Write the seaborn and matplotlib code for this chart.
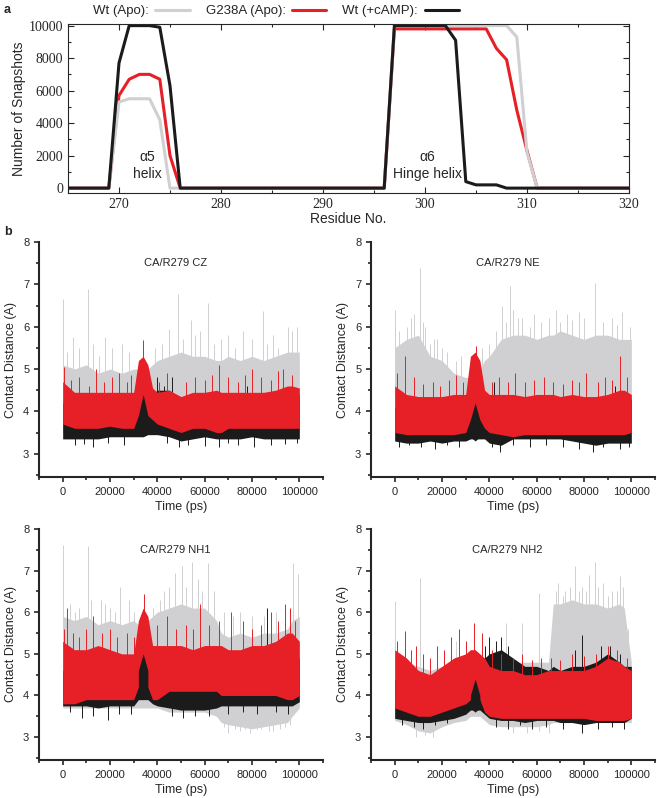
import numpy as np
import pandas as pd
import seaborn as sns
import matplotlib.pyplot as plt
from matplotlib.lines import Line2D
from matplotlib.ticker import MultipleLocator

sns.set_style("ticks")
plt.rcParams['font.family'] = ['Liberation Sans', 'DejaVu Sans']

GRAY = "#d0d0d2"
RED = "#e71f27"
BLACK = "#1b1b1b"

# ---------------- panel a: helix occupancy per residue ----------------
residues = np.arange(265, 321)
wt_apo = [0, 0, 0, 0, 0, 5300, 5500, 5500, 5500, 4200, 0,
          0, 0, 0, 0, 0, 0, 0, 0, 0, 0, 0, 0, 0, 0, 0, 0, 0, 0, 0, 0, 0,
          10000, 10000, 10000, 10000, 10000, 10000, 10000, 10000, 10000, 10000, 10000, 10000,
          9300, 2200, 0, 0, 0, 0, 0, 0, 0, 0, 0, 0]
g238a_apo = [0, 0, 0, 0, 0, 5700, 6700, 7000, 7000, 6700, 2000,
             0, 0, 0, 0, 0, 0, 0, 0, 0, 0, 0, 0, 0, 0, 0, 0, 0, 0, 0, 0, 0,
             9800, 9800, 9800, 9800, 9800, 9800, 9800, 9800, 9800, 9800, 8600, 7900,
             4800, 2300, 0, 0, 0, 0, 0, 0, 0, 0, 0, 0]
wt_camp = [0, 0, 0, 0, 0, 7700, 10000, 10000, 10000, 9900, 6300,
           0, 0, 0, 0, 0, 0, 0, 0, 0, 0, 0, 0, 0, 0, 0, 0, 0, 0, 0, 0, 0,
           10000, 10000, 10000, 10000, 10000, 10000, 9100, 400, 200, 200, 200, 0,
           0, 0, 0, 0, 0, 0, 0, 0, 0, 0, 0, 0]

# ---------------- panel b: contact distance traces (envelopes + spikes read by eye) ----------------
T = [0, 5000, 10000, 15000, 20000, 25000, 30000, 32000, 34000, 36000, 38000, 40000,
     45000, 50000, 55000, 60000, 65000, 67000, 70000, 75000, 80000, 85000, 90000,
     95000, 97000, 100000]
T_BUMP = [32000, 34000, 36000]

panels = {
    "CA/R279 CZ": dict(
        gray_hi=[5.1, 5.0, 5.1, 4.9, 5.0, 4.9, 5.0, 5.0, 5.0, 5.0, 5.1, 5.2, 5.3, 5.4, 5.3, 5.3, 5.2, 5.2, 5.3, 5.2, 5.3, 5.2, 5.3, 5.4, 5.4, 5.4],
        gray_lo=[3.5, 3.5, 3.5, 3.5, 3.5, 3.5, 3.5, 3.5, 3.5, 3.5, 3.5, 3.5, 3.5, 3.5, 3.5, 3.5, 3.5, 3.5, 3.5, 3.5, 3.5, 3.5, 3.5, 3.5, 3.5, 3.5],
        red_hi=[4.7, 4.45, 4.45, 4.45, 4.45, 4.45, 4.45, 5.2, 5.3, 5.1, 4.55, 4.45, 4.5, 4.35, 4.45, 4.45, 4.5, 4.45, 4.45, 4.45, 4.45, 4.45, 4.5, 4.6, 4.6, 4.55],
        red_lo=[3.7, 3.6, 3.6, 3.6, 3.65, 3.6, 3.6, 3.9, 3.9, 3.9, 3.8, 3.7, 3.6, 3.5, 3.6, 3.6, 3.5, 3.5, 3.6, 3.6, 3.6, 3.6, 3.6, 3.6, 3.6, 3.6],
        black_hi=[4.2, 4.2, 4.2, 4.2, 4.2, 4.2, 4.2, 4.3, 4.4, 4.3, 4.4, 4.5, 4.5, 4.3, 4.2, 4.2, 4.2, 4.2, 4.2, 4.2, 4.2, 4.2, 4.2, 4.2, 4.3, 4.4],
        black_lo=[3.35, 3.35, 3.35, 3.35, 3.4, 3.4, 3.4, 3.4, 3.4, 3.45, 3.45, 3.45, 3.4, 3.3, 3.35, 3.4, 3.35, 3.35, 3.35, 3.35, 3.4, 3.35, 3.35, 3.35, 3.35, 3.35],
        bump_hi=[3.9, 4.4, 3.9], bump_lo=[3.5, 3.4, 3.5],
        gray_t=[0, 2000, 4500, 7000, 10600, 13000, 15500, 18000, 21000, 25000, 28000, 39000, 42000, 45000,
                48600, 51000, 54200, 56000, 58000, 61500, 64000, 67000, 70000, 73000, 76000, 80000, 84600,
                86500, 89000, 91000, 95000, 97000, 99000],
        gray_v=[6.66, 5.4, 5.76, 5.5, 6.88, 5.6, 5.3, 5.75, 5.5, 5.6, 5.4, 5.5, 5.6, 5.95,
                6.77, 5.7, 6.15, 5.8, 5.9, 6.56, 5.6, 5.7, 5.8, 5.5, 5.9, 5.7, 6.36,
                5.6, 5.8, 5.5, 6.0, 5.9, 6.0],
        gray_dn_t=[], gray_dn_v=[],
        red_t=[700, 3500, 7000, 11000, 14000, 17500, 21000, 24000, 27000, 29000, 34000, 40500, 44000,
               52000, 56000, 60000, 63000, 66000, 70000, 74000, 77000, 80000, 84000, 88000, 91000, 93000, 97000],
        red_v=[5.05, 4.75, 4.8, 4.6, 5.0, 4.7, 4.8, 4.9, 4.7, 4.85, 5.68, 4.7, 4.9,
               4.7, 4.8, 4.75, 4.85, 5.1, 4.8, 4.7, 4.85, 5.0, 4.8, 4.75, 4.95, 5.0, 4.85],
        black_t=[10000, 40000, 43000, 46000, 78000],
        black_v=[4.4, 4.8, 4.6, 4.8, 4.6],
        black_dn_t=[5000, 9000, 13000, 19000, 26000, 44000, 49000, 53000, 60000, 66000, 70000, 74000, 81000, 88000, 94000, 99000],
        black_dn_v=[3.2, 3.22, 3.15, 3.25, 3.2, 3.25, 3.15, 3.2, 3.18, 3.15, 3.25, 3.2, 3.15, 3.2, 3.22, 3.25]),
    "CA/R279 NE": dict(
        gray_hi=[5.5, 5.7, 5.8, 5.3, 5.2, 4.9, 4.8, 4.8, 4.9, 5.0, 5.2, 5.3, 5.7, 5.8, 5.8, 5.7, 5.8, 5.8, 5.9, 5.8, 5.7, 5.8, 5.8, 5.7, 5.7, 5.7],
        gray_lo=[3.5, 3.5, 3.5, 3.5, 3.5, 3.5, 3.5, 3.5, 3.5, 3.5, 3.5, 3.5, 3.5, 3.5, 3.5, 3.5, 3.5, 3.5, 3.5, 3.5, 3.5, 3.5, 3.5, 3.5, 3.5, 3.5],
        red_hi=[4.6, 4.4, 4.35, 4.35, 4.35, 4.4, 4.4, 5.3, 5.4, 5.2, 4.5, 4.4, 4.4, 4.4, 4.35, 4.4, 4.4, 4.4, 4.35, 4.4, 4.35, 4.35, 4.4, 4.5, 4.5, 4.4],
        red_lo=[3.5, 3.45, 3.45, 3.45, 3.45, 3.45, 3.5, 3.8, 3.8, 3.8, 3.6, 3.5, 3.45, 3.4, 3.45, 3.45, 3.45, 3.45, 3.45, 3.45, 3.45, 3.45, 3.45, 3.45, 3.45, 3.5],
        black_hi=[4.1, 4.1, 4.1, 4.1, 4.1, 4.1, 4.2, 4.2, 4.2, 4.2, 4.2, 4.3, 4.2, 4.2, 4.2, 4.2, 4.2, 4.2, 4.2, 4.2, 4.2, 4.2, 4.2, 4.2, 4.2, 4.3],
        black_lo=[3.3, 3.25, 3.25, 3.3, 3.25, 3.3, 3.3, 3.35, 3.35, 3.35, 3.35, 3.25, 3.2, 3.35, 3.35, 3.35, 3.35, 3.35, 3.35, 3.3, 3.25, 3.2, 3.25, 3.25, 3.25, 3.25],
        bump_hi=[3.8, 4.2, 3.8], bump_lo=[3.4, 3.3, 3.4],
        gray_t=[0, 2000, 5000, 7000, 8000, 10900, 12000, 13000, 15000, 16500, 18000, 20000, 22000, 26000, 28000,
                37000, 40000, 43000, 45500, 47000, 48700, 50000, 52000, 54000, 57000, 59000, 62000, 65000,
                68000, 70000, 73000, 75000, 78000, 80000, 84800, 88000, 92000, 94000, 96000, 99500],
        gray_v=[6.39, 5.9, 6.0, 6.2, 6.3, 7.38, 6.1, 6.0, 5.6, 5.7, 5.7, 5.5, 5.4, 5.2, 5.3,
                5.5, 5.6, 5.9, 6.5, 6.1, 6.96, 6.4, 6.2, 6.2, 6.0, 6.3, 6.1, 6.2,
                6.4, 6.1, 6.3, 6.15, 6.35, 6.2, 7.04, 6.1, 6.2, 6.05, 6.35, 6.0],
        gray_dn_t=[], gray_dn_v=[],
        red_t=[1000, 4200, 8000, 12000, 16000, 19000, 23000, 26000, 29000, 34500, 41000, 44000, 48000, 51000,
               55000, 59000, 63000, 67000, 71000, 75000, 78000, 81000, 86000, 89000, 92000, 95200, 98000],
        red_v=[4.9, 5.3, 4.8, 4.65, 4.7, 4.6, 4.75, 4.85, 4.7, 5.55, 4.7, 4.8, 4.7, 4.9,
               4.7, 4.75, 4.8, 4.7, 4.65, 4.75, 4.7, 4.9, 4.7, 4.8, 4.75, 5.3, 4.8],
        black_t=[29000, 42000, 75000, 93000, 99500],
        black_v=[4.6, 4.7, 4.6, 4.6, 4.3],
        black_dn_t=[2000, 6000, 11000, 17000, 22000, 27000, 41000, 44500, 50000, 57000, 64000, 71000, 78000, 84000, 88000, 95000, 99000],
        black_dn_v=[3.15, 3.2, 3.15, 3.1, 3.2, 3.15, 3.15, 3.05, 3.2, 3.15, 3.2, 3.15, 3.1, 3.05, 3.15, 3.1, 3.15]),
    "CA/R279 NH1": dict(
        gray_hi=[5.9, 5.8, 5.9, 5.7, 5.8, 5.7, 5.8, 5.7, 5.8, 5.8, 5.9, 6.0, 6.1, 6.2, 6.1, 6.1, 5.8, 5.5, 5.4, 5.5, 5.4, 5.5, 5.5, 5.6, 5.8, 5.9],
        gray_lo=[3.7, 3.7, 3.7, 3.7, 3.7, 3.7, 3.7, 3.7, 3.7, 3.7, 3.7, 3.7, 3.6, 3.6, 3.6, 3.6, 3.5, 3.35, 3.3, 3.25, 3.2, 3.25, 3.3, 3.35, 3.5, 3.7],
        red_hi=[5.3, 5.1, 5.1, 5.2, 5.1, 5.0, 5.0, 5.8, 6.1, 5.9, 5.2, 5.2, 5.2, 5.2, 5.1, 5.2, 5.2, 5.2, 5.1, 5.1, 5.2, 5.2, 5.3, 5.5, 5.5, 5.3],
        red_lo=[3.8, 3.8, 3.9, 3.9, 3.9, 3.9, 3.9, 4.2, 4.2, 4.2, 3.9, 3.9, 4.1, 4.1, 4.1, 4.1, 4.1, 4.0, 4.0, 4.0, 4.0, 4.0, 4.0, 3.9, 3.9, 4.0],
        black_hi=[4.6, 4.6, 4.6, 4.6, 4.6, 4.6, 4.6, 4.5, 4.5, 4.5, 4.6, 4.5, 4.5, 4.5, 4.5, 4.5, 4.5, 4.5, 4.5, 4.5, 4.6, 4.6, 4.6, 4.7, 4.8, 4.9],
        black_lo=[3.75, 3.75, 3.75, 3.7, 3.75, 3.75, 3.75, 3.9, 3.9, 3.9, 3.8, 3.75, 3.7, 3.65, 3.65, 3.65, 3.7, 3.75, 3.75, 3.75, 3.75, 3.75, 3.75, 3.75, 3.75, 3.85],
        bump_hi=[4.6, 5.0, 4.6], bump_lo=[4.0, 3.9, 4.0],
        gray_t=[0, 3000, 5000, 7000, 10600, 12000, 16000, 18000, 20000, 22000, 24400, 28000, 30000, 38000, 41000,
                43000, 45000, 47500, 50300, 52000, 54500, 57000, 59000, 61500, 64000, 68000, 72000, 75000,
                80000, 85000, 90000, 94000, 97200, 99300],
        gray_v=[7.62, 6.2, 6.0, 6.1, 7.58, 6.3, 6.3, 6.2, 6.1, 6.0, 6.6, 6.3, 6.0, 6.1, 6.3,
                6.5, 6.6, 6.95, 7.1, 6.6, 7.2, 6.8, 6.5, 7.19, 6.5, 6.0, 5.9, 6.0,
                5.9, 5.9, 6.0, 6.1, 7.19, 6.92],
        gray_dn_t=[68000, 70000, 73000, 75000, 77000, 79000, 82000, 84000, 87000, 89000, 92000, 94000, 96000],
        gray_dn_v=[3.25, 3.1, 3.2, 3.15, 3.2, 3.1, 3.2, 3.2, 3.15, 3.15, 3.2, 3.25, 3.3],
        red_t=[500, 2000, 4500, 7000, 10000, 13000, 16500, 20000, 23000, 27000, 30000, 34500, 40000, 44000, 48000,
               52000, 55000, 58000, 62000, 66000, 71000, 76000, 80000, 84000, 88000, 91000, 94000, 96000, 98000],
        red_v=[5.6, 6.1, 5.5, 5.4, 5.6, 5.9, 5.5, 5.6, 5.4, 5.5, 5.4, 6.45, 5.7, 5.9, 5.6,
               5.7, 5.6, 6.2, 5.7, 5.8, 6.0, 5.8, 5.6, 5.7, 6.0, 5.8, 6.2, 6.1, 5.8],
        black_t=[6000, 13000, 86500, 99000],
        black_v=[5.1, 5.5, 6.1, 5.0],
        black_dn_t=[3000, 8000, 13000, 19000, 24000, 29000, 46000, 51000, 56000, 62000, 70000, 76000, 82000, 90000, 95000],
        black_dn_v=[3.6, 3.45, 3.5, 3.4, 3.55, 3.55, 3.5, 3.45, 3.5, 3.5, 3.55, 3.6, 3.55, 3.6, 3.55]),
    "CA/R279 NH2": dict(
        gray_hi=[4.9, 4.8, 4.7, 4.6, 4.7, 4.8, 4.9, 4.9, 4.9, 4.9, 4.9, 4.9, 4.9, 4.8, 4.8, 4.8, 4.8, 6.2, 6.2, 6.3, 6.2, 6.2, 6.1, 6.2, 6.1, 4.8],
        gray_lo=[3.4, 3.3, 3.15, 3.1, 3.25, 3.35, 3.4, 3.5, 3.5, 3.5, 3.4, 3.3, 3.25, 3.25, 3.25, 3.25, 3.3, 3.35, 3.35, 3.35, 3.35, 3.35, 3.35, 3.35, 3.35, 3.35],
        red_hi=[5.1, 4.9, 4.6, 4.5, 4.7, 4.9, 5.0, 5.1, 5.1, 5.0, 4.9, 4.7, 4.6, 4.6, 4.5, 4.5, 4.6, 4.6, 4.6, 4.6, 4.6, 4.7, 4.9, 4.8, 4.7, 4.6],
        red_lo=[3.7, 3.6, 3.5, 3.5, 3.6, 3.7, 3.8, 3.9, 3.9, 3.9, 3.6, 3.5, 3.45, 3.45, 3.45, 3.45, 3.45, 3.45, 3.45, 3.45, 3.45, 3.4, 3.4, 3.4, 3.4, 3.45],
        black_hi=[4.4, 4.2, 4.1, 4.1, 4.2, 4.4, 4.5, 4.6, 4.6, 4.7, 4.9, 5.0, 5.1, 4.9, 4.7, 4.7, 4.6, 4.7, 4.6, 4.7, 4.7, 4.8, 5.0, 4.8, 4.7, 4.7],
        black_lo=[3.45, 3.4, 3.35, 3.35, 3.4, 3.45, 3.55, 3.65, 3.65, 3.65, 3.55, 3.45, 3.4, 3.4, 3.35, 3.4, 3.4, 3.4, 3.35, 3.35, 3.3, 3.35, 3.35, 3.35, 3.35, 3.45],
        bump_hi=[4.0, 4.4, 4.0], bump_lo=[3.7, 3.6, 3.7],
        gray_t=[0, 10600, 26000, 47000, 53600, 61000, 68000, 69000, 71000, 72000, 74000, 76000, 78000, 79000,
                81000, 82000, 84500, 86000, 88000, 90000, 92000, 94000, 95000, 96500, 98500],
        gray_v=[6.27, 6.83, 5.3, 5.75, 5.75, 6.47, 6.5, 6.7, 6.4, 6.5, 6.6, 7.1, 6.5, 6.6,
                6.5, 6.9, 7.21, 6.6, 6.7, 6.4, 6.5, 6.5, 6.86, 6.6, 5.6],
        gray_dn_t=[9000, 13000, 16000, 50000, 56000, 61000, 65000],
        gray_dn_v=[3.0, 3.05, 3.0, 3.1, 3.1, 3.15, 3.1],
        red_t=[1000, 4500, 7000, 9000, 12000, 15000, 18000, 21000, 24000, 27000, 30000, 33500, 37000, 41000,
               45000, 50000, 54000, 58000, 62000, 66000, 70000, 75000, 80000, 85000, 90000, 94000, 98000],
        red_v=[5.3, 5.55, 5.1, 5.2, 5.0, 4.9, 5.2, 5.1, 5.4, 5.6, 5.3, 5.75, 5.5, 5.1,
               5.0, 4.9, 5.0, 4.85, 4.9, 4.9, 4.85, 5.0, 4.95, 5.0, 5.2, 5.1, 4.9],
        black_t=[38000, 40000, 43000, 45000, 48000, 76000, 79000, 87000, 91000, 95000],
        black_v=[5.2, 5.4, 5.3, 5.4, 5.2, 5.1, 5.45, 5.2, 5.2, 5.0],
        black_dn_t=[3000, 8000, 12000, 17000, 22000, 43000, 48000, 53000, 58000, 64000, 71000, 79000, 86000, 92000, 97000],
        black_dn_v=[3.3, 3.25, 3.2, 3.3, 3.35, 3.25, 3.2, 3.3, 3.2, 3.25, 3.2, 3.1, 3.2, 3.25, 3.2]),
}

fig = plt.figure(figsize=(6.57, 7.98), dpi=100)

# --- A) occupancy lines ---
ax = fig.add_axes([68 / 657, 1 - 193 / 798, 561 / 657, 169 / 798])
df_a = pd.DataFrame({"Residue": residues, "Wt (Apo)": wt_apo,
                     "G238A (Apo)": g238a_apo, "Wt (+cAMP)": wt_camp})
for col, c in [("G238A (Apo)", RED), ("Wt (Apo)", GRAY), ("Wt (+cAMP)", BLACK)]:
    sns.lineplot(data=df_a, x="Residue", y=col, color=c, lw=2.2, ax=ax)
ax.set_xlim(265, 320)
ax.set_ylim(-300, 10100)
ax.xaxis.set_major_locator(MultipleLocator(10))
ax.xaxis.set_minor_locator(MultipleLocator(5))
ax.yaxis.set_major_locator(MultipleLocator(2000))
ax.yaxis.set_minor_locator(MultipleLocator(1000))
ax.tick_params(which="both", direction="in", top=True, right=True, width=0.8,
               labelsize=10, labelfontfamily="Liberation Serif")
ax.tick_params(which="major", length=4)
ax.tick_params(which="minor", length=2.5)
for s in ax.spines.values():
    s.set_linewidth(0.8)
ax.set_xlabel("Residue No.", fontsize=10, labelpad=1)
ax.set_ylabel("Number of Snapshots", fontsize=10, labelpad=2)
ax.text(272.8, 1400, "α5\nhelix", ha="center", va="center", fontsize=10, linespacing=1.3)
ax.text(300.2, 1400, "α6\nHinge helix", ha="center", va="center", fontsize=10, linespacing=1.3)

handles = [Line2D([], [], color=GRAY, lw=2.2), Line2D([], [], color=RED, lw=2.2),
           Line2D([], [], color=BLACK, lw=2.2)]
fig.legend(handles, ["Wt (Apo):", "G238A (Apo):", "Wt (+cAMP):"], loc="center",
           bbox_to_anchor=(0.42, 0.986), ncol=3, frameon=False, markerfirst=False,
           fontsize=9.5, handlelength=2.6, handletextpad=0.5, columnspacing=1.2)

fig.text(0.006, 0.988, "a", fontsize=9, fontweight="bold", va="center")
fig.text(0.006, 1 - 232 / 798, "b", fontsize=9, fontweight="bold", va="center")

# --- B) contact distance panels ---
boxes = [[39 / 657, 1 - 477 / 798, 284 / 657, 235 / 798],
         [371 / 657, 1 - 477 / 798, 284 / 657, 235 / 798],
         [39 / 657, 1 - 760 / 798, 284 / 657, 231 / 798],
         [371 / 657, 1 - 760 / 798, 284 / 657, 231 / 798]]

for box, (title, d) in zip(boxes, panels.items()):
    ax = fig.add_axes(box)
    # layer order: gray (Wt apo) -> black (Wt cAMP) -> red (G238A) -> black bump
    ax.fill_between(T, d["gray_lo"], d["gray_hi"], color=GRAY, lw=0, zorder=1.0)
    ax.vlines(d["gray_t"], 4.0, d["gray_v"], color=GRAY, lw=0.7, zorder=1.1)
    ax.vlines(d["gray_dn_t"], 4.0, d["gray_dn_v"], color=GRAY, lw=0.7, zorder=1.1)
    ax.fill_between(T, d["black_lo"], d["black_hi"], color=BLACK, lw=0, zorder=1.2)
    ax.vlines(d["black_t"], 4.0, d["black_v"], color=BLACK, lw=0.7, zorder=1.3)
    ax.vlines(d["black_dn_t"], 4.0, d["black_dn_v"], color=BLACK, lw=0.7, zorder=1.3)
    ax.fill_between(T, d["red_lo"], d["red_hi"], color=RED, lw=0, zorder=1.4)
    ax.vlines(d["red_t"], 4.3, d["red_v"], color=RED, lw=0.7, zorder=1.5)
    ax.fill_between(T_BUMP, d["bump_lo"], d["bump_hi"], color=BLACK, lw=0, zorder=1.6)

    ax.set_xlim(-10000, 110000)
    ax.set_ylim(2.45, 8)
    ax.xaxis.set_major_locator(MultipleLocator(20000))
    ax.xaxis.set_minor_locator(MultipleLocator(10000))
    ax.yaxis.set_major_locator(MultipleLocator(1))
    ax.yaxis.set_minor_locator(MultipleLocator(0.5))
    ax.tick_params(which="both", direction="out", width=1.2, labelsize=8)
    ax.tick_params(which="major", length=3.5)
    ax.tick_params(which="minor", length=2)
    sns.despine(ax=ax)
    for s in ["left", "bottom"]:
        ax.spines[s].set_linewidth(1.5)
    ax.set_xlabel("Time (ps)", fontsize=9, labelpad=3)
    ax.set_ylabel("Contact Distance (A)", fontsize=9, labelpad=4)
    ax.text(0.48, 0.91, title, transform=ax.transAxes, ha="center", va="center", fontsize=8)

fig.savefig("out.png", dpi=100)
